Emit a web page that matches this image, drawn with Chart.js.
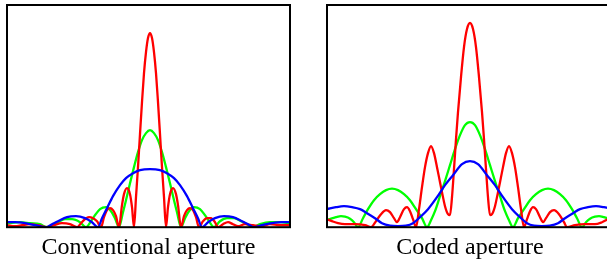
<!DOCTYPE html>
<html>
<head>
<meta charset="utf-8">
<script src="https://cdn.jsdelivr.net/npm/chart.js@4.4.1/dist/chart.umd.min.js"></script>
<style>
    html, body { margin: 0; padding: 0; background: #fff; overflow: hidden; }
    #painel_convencional { position: absolute; left: 0; top: 0; }
    #painel_codificado { position: absolute; left: 320px; top: 0; }
</style>
</head>
<body>
<canvas id="painel_convencional" width="300" height="266"></canvas>
<canvas id="painel_codificado" width="300" height="266"></canvas>
<script>
// x = distance from the centre of the pattern, y = intensity
const titulos = ['Conventional aperture', 'Coded aperture'];

const convRedX = [-143, -135, -128, -120, -112, -103, -96, -88, -80, -73, -69, -65, -61, -57, -53, -49, -46, -43, -40, -37, -34, -31, -28, -26, -23, -20, -18, -16, -14, -12, -10, -8, -6, -4, -2, 0, 2, 4, 6, 8, 10, 12, 14, 16, 18, 20, 23, 26, 28, 31, 34, 37, 40, 43, 46, 49, 53, 57, 61, 65, 68, 73, 78, 83, 88, 95, 103, 112, 120, 130, 140];
const convRedY = [2, 1, 2, 3, 2, 0, 2, 4, 3, 0, 4, 8, 10, 9, 6, 0, 10, 17, 19, 17, 11, 0, 22, 33, 39, 33, 20, 0, 30, 60, 93, 125, 154, 175, 189, 194, 189, 175, 154, 125, 93, 60, 30, 0, 20, 33, 39, 33, 22, 0, 11, 17, 19, 17, 10, 0, 6, 9, 9, 5, 0, 3, 5, 3, 1, 3, 2, 1, 3, 2, 2];

const convGreenX = [-143, -130, -120, -110, -103, -98, -92, -85, -78, -70, -64, -59, -55, -50, -44, -39, -35, -31, -27, -24, -20, -16, -12, -8, -4, 0, 4, 8, 12, 16, 20, 24, 27, 31, 35, 39, 44, 50, 55, 59, 64, 70, 77, 84, 91, 97, 103, 110, 120, 130, 140];
const convGreenY = [4, 5, 4, 3, 0, 2, 5, 8, 8, 5, 0, 6, 12, 18, 20, 16, 9, 0, 15, 27, 44, 60, 75, 87, 94, 97, 94, 87, 75, 60, 44, 27, 15, 0, 9, 16, 20, 18, 12, 6, 0, 6, 9, 9, 6, 3, 0, 3, 5, 5, 4];

const convBlueX = [-143, -135, -125, -115, -104, -98, -92, -83, -74, -65, -58, -52, -48, -43, -37, -30, -24, -17, -10, 0, 10, 17, 24, 30, 37, 43, 48, 52, 58, 65, 74, 83, 92, 98, 104, 112, 122, 132, 140];
const convBlueY = [5, 5, 4, 2, 0, 3, 6, 10, 11, 9, 5, 0, 9, 19, 31, 42, 49, 54, 57, 58, 57, 54, 49, 42, 31, 19, 9, 0, 5, 9, 11, 10, 6, 3, 0, 2, 4, 5, 5];

const codedRedX = [-143, -138, -132, -125, -115, -105, -99, -94, -89, -84, -80, -76, -73, -70, -66, -63, -60, -57, -54, -51, -48, -45, -42, -39, -36, -33, -30, -28, -25, -22, -20, -18, -16, -14, -12, -9, -6, -3, 0, 3, 6, 9, 12, 14, 16, 18, 20, 22, 25, 28, 30, 33, 36, 39, 42, 45, 48, 51, 54, 57, 60, 63, 66, 70, 73, 76, 80, 84, 89, 94, 97, 105, 115, 125, 132, 138, 143];
const codedRedY = [8, 6, 4, 3, 3, 2, 0, 6, 13, 17, 15, 9, 5, 10, 18, 20, 16, 8, 0, 18, 40, 60, 74, 81, 74, 60, 45, 35, 21, 13, 12, 30, 58, 88, 115, 150, 180, 198, 204, 198, 180, 150, 115, 88, 58, 30, 12, 13, 21, 35, 45, 60, 74, 81, 74, 60, 40, 18, 0, 8, 16, 20, 18, 10, 5, 9, 15, 17, 13, 5, 0, 2, 3, 3, 5, 8, 10];

const codedGreenX = [-143, -139, -134, -129, -125, -120, -116, -112, -107, -102, -96, -90, -84, -78, -72, -66, -60, -54, -48, -43, -39, -35, -30, -25, -20, -15, -10, -5, 0, 5, 10, 15, 20, 25, 30, 35, 39, 43, 48, 54, 60, 66, 72, 78, 84, 90, 96, 102, 107, 112, 116, 120, 125, 129, 134, 139, 143];
const codedGreenY = [7, 8.5, 10, 11, 10.5, 8.5, 5, 0, 9, 18, 27, 33, 37, 38.5, 37, 33, 27, 18, 9, 0, 7, 16, 31, 46, 62, 78, 92, 102, 105, 102, 92, 78, 62, 46, 31, 16, 7, 0, 9, 18, 27, 33, 37, 38.5, 37, 33, 27, 18, 9, 0, 5, 8.5, 10.5, 11, 10, 8.5, 7];

const codedBlueX = [-143, -134, -126, -118, -110, -103, -95, -88, -80, -72, -64, -57, -50, -42, -33, -25, -17, -8, 0, 8, 17, 25, 33, 42, 50, 57, 64, 72, 80, 88, 95, 103, 110, 118, 126, 134, 143];
const codedBlueY = [18, 20, 21, 20, 18, 14, 9, 4, 1.5, 1, 1.5, 4, 10, 18, 30, 42, 52, 63, 66, 63, 52, 42, 30, 18, 10, 4, 1.5, 1, 1.5, 4, 9, 14, 18, 20, 21, 20, 18];

function pontos(xs, ys) {
    return xs.map(function (x, i) {
        return { x: x, y: ys[i] };
    });
}

// black box round the plot area
const moldura = {
    id: 'moldura',
    afterDraw(chart) {
        const area = chart.chartArea;
        const ctx = chart.ctx;
        ctx.save();
        ctx.strokeStyle = '#000';
        ctx.lineWidth = 2;
        ctx.strokeRect(area.left, area.top, area.right - area.left, area.bottom - area.top);
        ctx.restore();
    }
};

function desenharPainel(canvas, titulo, xMin, xMax, vermelho, verde, azul, margens) {
    new Chart(canvas, {
        type: 'line',
        data: {
            datasets: [
                { data: azul, borderColor: '#0000ff', order: 1 },
                { data: vermelho, borderColor: '#ff0000', order: 2 },
                { data: verde, borderColor: '#00ff00', order: 3 }
            ]
        },
        options: {
            responsive: false,
            animation: false,
            devicePixelRatio: 1,
            layout: { padding: margens },
            elements: {
                point: { radius: 0 },
                line: { borderWidth: 2.3, cubicInterpolationMode: 'monotone', fill: false }
            },
            scales: {
                x: { type: 'linear', min: xMin, max: xMax, display: false },
                y: { min: 0, max: 222, display: false }
            },
            plugins: {
                legend: { display: false },
                tooltip: { enabled: false },
                title: {
                    display: true,
                    position: 'bottom',
                    text: titulo,
                    color: '#000',
                    font: { family: "'Liberation Serif', 'Times New Roman', serif", size: 24, weight: 'normal' },
                    padding: { top: 6, bottom: 0 }
                }
            }
        },
        plugins: [moldura]
    });
}

desenharPainel(document.getElementById('painel_convencional'), titulos[0], -143, 140,
    pontos(convRedX, convRedY), pontos(convGreenX, convGreenY), pontos(convBlueX, convBlueY),
    { left: 7, right: 10, top: 5, bottom: 4 });

desenharPainel(document.getElementById('painel_codificado'), titulos[1], -143, 143,
    pontos(codedRedX, codedRedY), pontos(codedGreenX, codedGreenY), pontos(codedBlueX, codedBlueY),
    { left: 7, right: 7, top: 5, bottom: 4 });
</script>
</body>
</html>
